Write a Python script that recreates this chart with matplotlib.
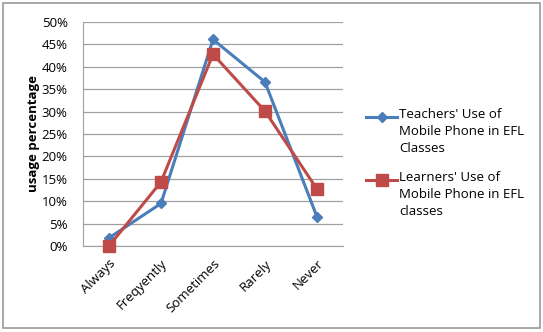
import matplotlib.pyplot as plt
from matplotlib.patches import Rectangle
from matplotlib.lines import Line2D

categories = ['Always', 'Freqyently', 'Sometimes', 'Rarely', 'Never']
teachers = [1.8, 9.5, 46.1, 36.6, 6.5]
learners = [0.0, 14.3, 42.8, 30.1, 12.7]
yticks = [0, 5, 10, 15, 20, 25, 30, 35, 40, 45, 50]
labels = ["Teachers' Use of\nMobile Phone in EFL\nClasses",
          "Learners' Use of\nMobile Phone in EFL\nclasses"]

plt.rcParams['font.family'] = ['Open Sans', 'DejaVu Sans']

fig = plt.figure(figsize=(5.43, 3.32), dpi=100)
W, H = 543, 332
ax = fig.add_axes([83 / W, 1 - 246 / H, 260 / W, 224 / H])

blue, red = '#4A7EBB', '#BE4B48'
markers = [dict(marker='D', ms=5.5), dict(marker='s', ms=8)]
colors = [blue, red]

x = range(len(categories))
ax.plot(x, teachers, color=blue, lw=2.2, clip_on=False, zorder=3, **markers[0])
ax.plot(x, learners, color=red, lw=2.2, clip_on=False, zorder=3, **markers[1])

ax.set_xlim(-0.5, 4.5)
ax.set_ylim(0, 50)
ax.set_yticks(yticks)
ax.set_yticklabels([f'{v}%' for v in yticks], fontsize=9.5)
ax.set_xticks(list(x))
ax.set_xticklabels(categories, rotation=45, ha='right', rotation_mode='anchor', fontsize=9.5)
ax.tick_params(axis='y', length=0, pad=11)
ax.tick_params(axis='x', length=0, pad=8)
ax.grid(axis='y', color='#a0a0a0', lw=0.9)
ax.set_axisbelow(True)
for s in ['top', 'right']:
    ax.spines[s].set_visible(False)
for s in ['left', 'bottom']:
    ax.spines[s].set_color('#a0a0a0')
ax.set_ylabel('usage percentage', fontsize=9.5, fontweight='bold', labelpad=1)

# legend: handle aligned with first line of each label
for i, (lab, mk, c) in enumerate(zip(labels, markers, colors)):
    ytop = 117 + i * 63
    fig.add_artist(Line2D([366 / W, 397 / W], [1 - ytop / H] * 2,
                          transform=fig.transFigure, color=c, lw=2.2))
    fig.add_artist(Line2D([381.5 / W], [1 - ytop / H], transform=fig.transFigure,
                          ls='none', color=c, **mk))
    fig.text(399 / W, 1 - (ytop - 9) / H, lab, fontsize=9.5, va='top', ha='left',
             linespacing=1.38)

fig.patches.append(Rectangle((3 / W, 4 / H), 537 / W, 325 / H, transform=fig.transFigure,
                             fill=False, edgecolor='#999999', lw=1.2))

fig.savefig('out.png', dpi=100)
